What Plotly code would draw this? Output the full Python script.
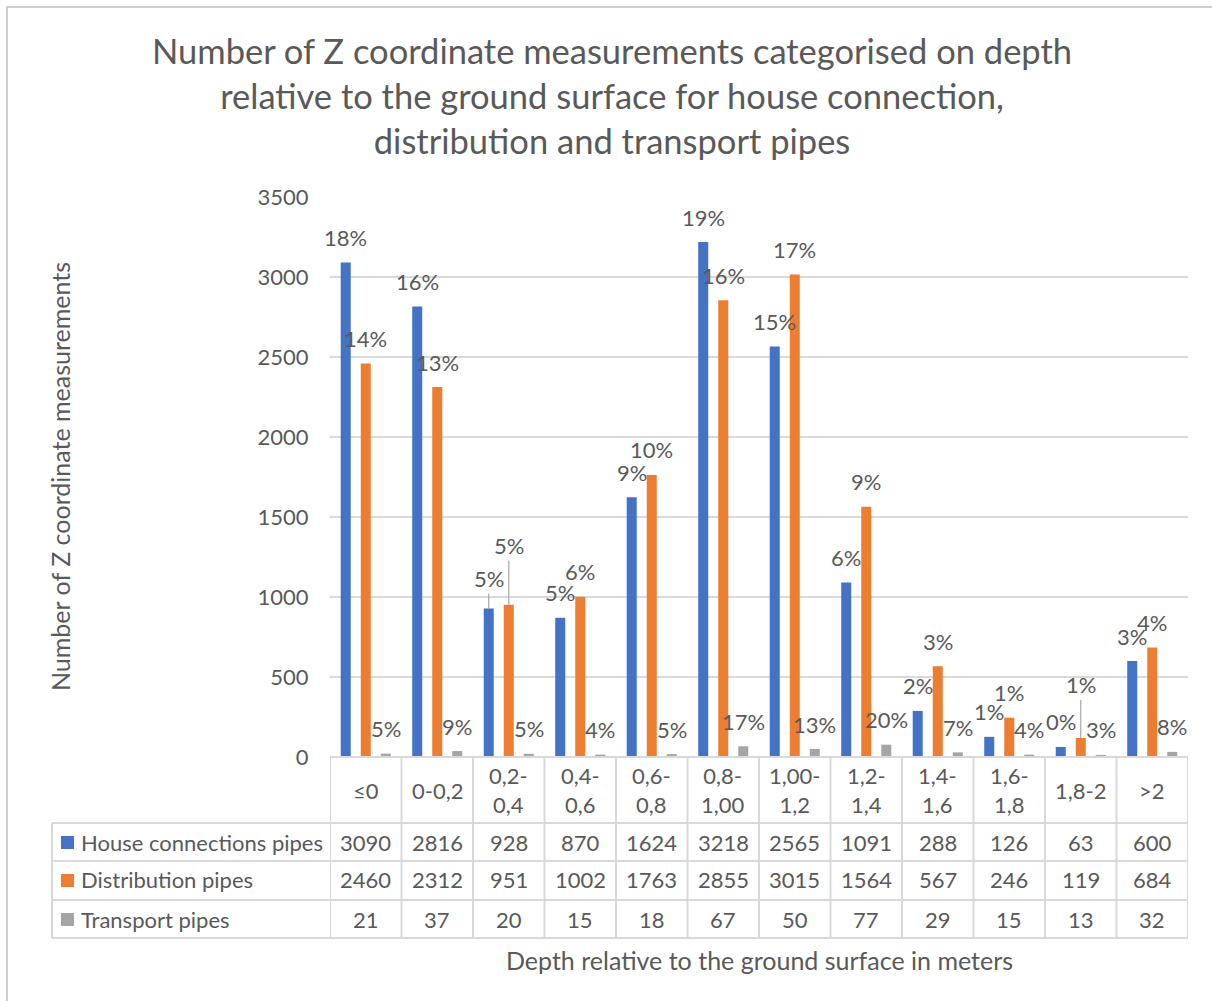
import plotly.graph_objects as go

# ---- data -------------------------------------------------------------
categories = ["≤0", "0-0,2", "0,2-0,4", "0,4-0,6", "0,6-0,8", "0,8-1,00",
              "1,00-1,2", "1,2-1,4", "1,4-1,6", "1,6-1,8", "1,8-2", ">2"]
header_labels = ["≤0", "0-0,2", "0,2-<br>0,4", "0,4-<br>0,6", "0,6-<br>0,8",
                 "0,8-<br>1,00", "1,00-<br>1,2", "1,2-<br>1,4", "1,4-<br>1,6",
                 "1,6-<br>1,8", "1,8-2", ">2"]
house_connections = [3090, 2816, 928, 870, 1624, 3218, 2565, 1091, 288, 126, 63, 600]
distribution = [2460, 2312, 951, 1002, 1763, 2855, 3015, 1564, 567, 246, 119, 684]
transport = [21, 37, 20, 15, 18, 67, 50, 77, 29, 15, 13, 32]
series_names = ["House connections pipes", "Distribution pipes", "Transport pipes"]
y_ticks = [0, 500, 1000, 1500, 2000, 2500, 3000, 3500]

series_values = [house_connections, distribution, transport]
colors = ["#4472C4", "#ED7D31", "#A5A5A5"]
TEXT = "#595959"
GRID = "#D9D9D9"
FONT = "Lato"

# ---- page geometry (pixels) ------------------------------------------
W, H = 1212, 1001
L, R, T, B = 330, 24, 197, 244
PW, PH = W - L - R, H - T - B
BARGAP = 0.16
slot_px = PW / len(categories) * (1 - BARGAP) / 3


def px(xp):
    """pixel x -> paper x"""
    return (xp - L) / PW


def py(yp):
    """pixel y -> paper y"""
    return (H - B - yp) / PH


fig = go.Figure()
for name, vals, col in zip(series_names, series_values, colors):
    fig.add_trace(go.Bar(x=categories, y=vals, name=name, marker_color=col,
                         marker_line_width=0))

annotations = []

# percentage labels (share of each series total)
leader = {(0, 2): 30, (1, 2): 59, (1, 10): 53}
for s, vals in enumerate(series_values):
    total = sum(vals)
    for i, v in enumerate(vals):
        txt = f"{round(100 * v / total)}%"
        xs = (s - 1) * slot_px
        if (s, i) in leader:
            annotations.append(dict(
                x=categories[i], y=v, xref="x", yref="y", text=txt,
                showarrow=True, arrowhead=0, arrowwidth=1.2, arrowcolor="#A6A6A6",
                ax=0, ay=-leader[(s, i)], standoff=0, xshift=xs,
                font=dict(family=FONT, size=22, color=TEXT)))
        else:
            annotations.append(dict(
                x=categories[i], y=v, xref="x", yref="y", text=txt,
                showarrow=False, yanchor="middle", yshift=25, xshift=xs,
                font=dict(family=FONT, size=22, color=TEXT)))

# data table: header row
for i, lab in enumerate(header_labels):
    annotations.append(dict(x=categories[i], y=py(790), xref="x", yref="paper",
                            text=lab, showarrow=False, yanchor="middle",
                            font=dict(family=FONT, size=22, color=TEXT)))

# data table: value rows with legend keys
row_centers = [842, 880, 919]
shapes = []
for s, (name, vals, col) in enumerate(zip(series_names, series_values, colors)):
    yc = row_centers[s]
    annotations.append(dict(x=px(79), y=py(yc), xref="paper", yref="paper",
                            text=name, showarrow=False, xanchor="left",
                            yanchor="middle",
                            font=dict(family=FONT, size=22, color=TEXT)))
    shapes.append(dict(type="rect", xref="paper", yref="paper",
                       x0=px(61), x1=px(74), y0=py(yc - 6), y1=py(yc + 7),
                       fillcolor=col, line_width=0))
    for i, v in enumerate(vals):
        annotations.append(dict(x=categories[i], y=py(yc), xref="x", yref="paper",
                                text=str(v), showarrow=False, yanchor="middle",
                                font=dict(family=FONT, size=22, color=TEXT)))

# table grid lines
n = len(categories)
for k in range(n + 1):
    shapes.append(dict(type="line", xref="x", yref="paper", x0=k - 0.5, x1=k - 0.5,
                       y0=py(757), y1=py(938), line=dict(color=GRID, width=2)))
shapes.append(dict(type="line", xref="paper", yref="paper", x0=px(52), x1=px(52),
                   y0=py(823), y1=py(938), line=dict(color=GRID, width=2)))
shapes.append(dict(type="line", xref="paper", yref="paper", x0=0, x1=1,
                   y0=py(757), y1=py(757), line=dict(color=GRID, width=2)))
for yy in [823, 861, 900, 938]:
    shapes.append(dict(type="line", xref="paper", yref="paper", x0=px(52), x1=1,
                       y0=py(yy), y1=py(yy), line=dict(color=GRID, width=2)))

# chart border
shapes.append(dict(type="rect", xref="paper", yref="paper", x0=px(7), x1=px(1230),
                   y0=py(1030), y1=py(7), line=dict(color="#BFBFBF", width=1.5),
                   layer="below"))

# axis titles
annotations.append(dict(x=px(60), y=0.5, xref="paper", yref="paper",
                        text="Number of Z coordinate measurements", textangle=-90,
                        showarrow=False, xanchor="center", yanchor="middle",
                        font=dict(family=FONT, size=25, color=TEXT)))
annotations.append(dict(x=0.5, y=py(960), xref="paper", yref="paper",
                        text="Depth relative to the ground surface in meters",
                        showarrow=False, xanchor="center", yanchor="middle",
                        font=dict(family=FONT, size=25, color=TEXT)))

fig.update_layout(
    width=W, height=H,
    margin=dict(l=L, r=R, t=T, b=B, pad=0, autoexpand=False),
    paper_bgcolor="white", plot_bgcolor="white",
    title=dict(
        text="Number of Z coordinate measurements categorised on depth<br>"
             "relative to the ground surface for house connection,<br>"
             "distribution and transport pipes",
        x=0.505, xanchor="center", y=1 - 64 / H, yanchor="top",
        font=dict(family=FONT, size=34.5, color=TEXT)),
    barmode="group", bargap=BARGAP, bargroupgap=0.5,
    showlegend=False,
    annotations=annotations, shapes=shapes,
    xaxis=dict(range=[-0.5, n - 0.5], showticklabels=False, showgrid=False,
               zeroline=False, showline=False, ticks="", automargin=False),
    yaxis=dict(range=[0, 3500], tickvals=y_ticks, showgrid=True, gridcolor=GRID,
               gridwidth=2, zeroline=False, showline=False, ticks="outside",
               ticklen=16, tickcolor="rgba(0,0,0,0)", automargin=False,
               tickfont=dict(family=FONT, size=22, color=TEXT)),
)

fig.write_html("out.html")
